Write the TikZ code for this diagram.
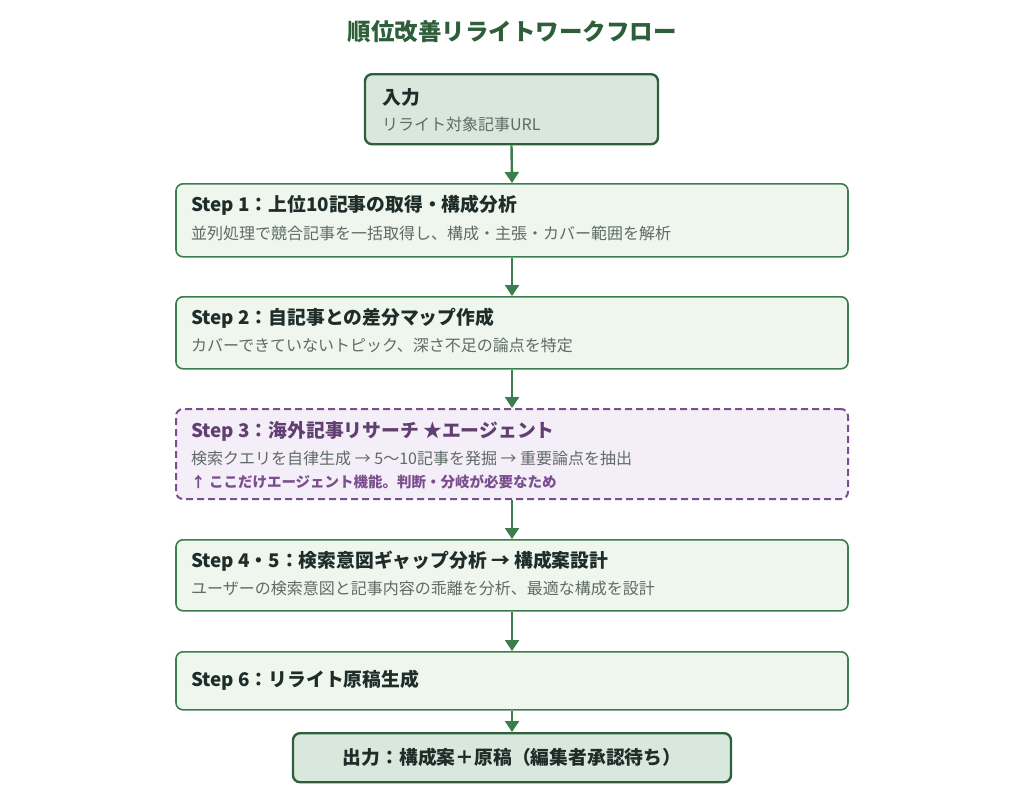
\documentclass[tikz,border=0pt]{standalone}
\usepackage{fontspec}
\setmainfont{Noto Sans CJK JP}
\usetikzlibrary{positioning, arrows.meta, calc}
\definecolor{dgreen}{HTML}{2E5E3A}
\definecolor{mgreen}{HTML}{3C7D4E}
\definecolor{lgreen}{HTML}{EEF6EE}
\definecolor{igreen}{HTML}{D9E8DC}
\definecolor{dpurple}{HTML}{7B4F8E}
\definecolor{lpurple}{HTML}{F4EEF8}
\definecolor{tgray}{HTML}{5F6B66}
\definecolor{ttext}{HTML}{1F2D2A}
\tikzset{
	box/.style={draw=mgreen, line width=1.6pt, fill=lgreen, rounded corners=7pt, minimum width=672pt, anchor=north},
	endbox/.style={draw=dgreen, line width=2.4pt, fill=igreen, rounded corners=7pt, anchor=north},
	agentbox/.style={draw=dpurple, line width=2pt, dash pattern=on 7pt off 4pt, fill=lpurple, rounded corners=7pt, minimum width=672pt, anchor=north},
	head/.style={anchor=west, font=\bfseries\fontsize{18.8}{22}\selectfont, text=ttext, inner sep=0pt},
	sub/.style={anchor=west, font=\fontsize{16}{19}\selectfont, text=tgray, inner sep=0pt},
	flow/.style={-{Triangle[length=11pt,width=14pt]}, draw=mgreen, line width=2.4pt, color=mgreen},
}
\begin{document}
\begin{tikzpicture}[x=1pt, y=-1pt]
	\useasboundingbox (0,0) rectangle (1024,790);
	\node[font=\bfseries\fontsize{23.5}{28}\selectfont, text=dgreen] (title) at (512,32) {順位改善リライトワークフロー};

	% boxes
	\node[endbox, minimum width=293pt, minimum height=70pt] (in) at (511.5,73) {};
	\node[box, minimum height=73pt] (s1) at (512,183) {};
	\node[box, minimum height=72pt] (s2) at (512,296) {};
	\node[agentbox, minimum height=90pt] (s3) at (512,408) {};
	\node[box, minimum height=71pt] (s4) at (512,539) {};
	\node[box, minimum height=58pt] (s6) at (512,651) {};
	\node[endbox, minimum width=438pt, minimum height=49pt] (out) at (512,732) {};

	% texts
	\node[head] (inh) at (382,97) {入力};
	\node[sub] (ins) at (382,124) {リライト対象記事URL};
	\node[head] (s1h) at (191,205) {Step 1：上位10記事の取得・構成分析};
	\node[sub] (s1s) at (191,233) {並列処理で競合記事を一括取得し、構成・主張・カバー範囲を解析};
	\node[head] (s2h) at (191,318) {Step 2：自記事との差分マップ作成};
	\node[sub] (s2s) at (191,345) {カバーできていないトピック、深さ不足の論点を特定};
	\node[head, text=dpurple!80!black] (s3h) at (191,431) {Step 3：海外記事リサーチ ★エージェント};
	\node[sub] (s3s) at (191,458) {検索クエリを自律生成 → 5〜10記事を発掘 → 重要論点を抽出};
	\node[sub, font=\bfseries\fontsize{14.5}{17}\selectfont, text=dpurple] (s3n) at (191,482) {↑ ここだけエージェント機能。判断・分岐が必要なため};
	\node[head] (s4h) at (191,561) {Step 4・5：検索意図ギャップ分析 → 構成案設計};
	\node[sub] (s4s) at (191,588) {ユーザーの検索意図と記事内容の乖離を分析、最適な構成を設計};
	\node[head] (s6h) at (191,680) {Step 6：リライト原稿生成};
	\node[head, anchor=center] (outh) at (out.center) {出力：構成案＋原稿（編集者承認待ち）};

	% connectors
	\foreach \a/\b in {in/s1, s1/s2, s2/s3, s3/s4, s4/s6, s6/out} {
		\draw[flow] (\a.south) -- (\b.north);
	}
\end{tikzpicture}
\end{document}
